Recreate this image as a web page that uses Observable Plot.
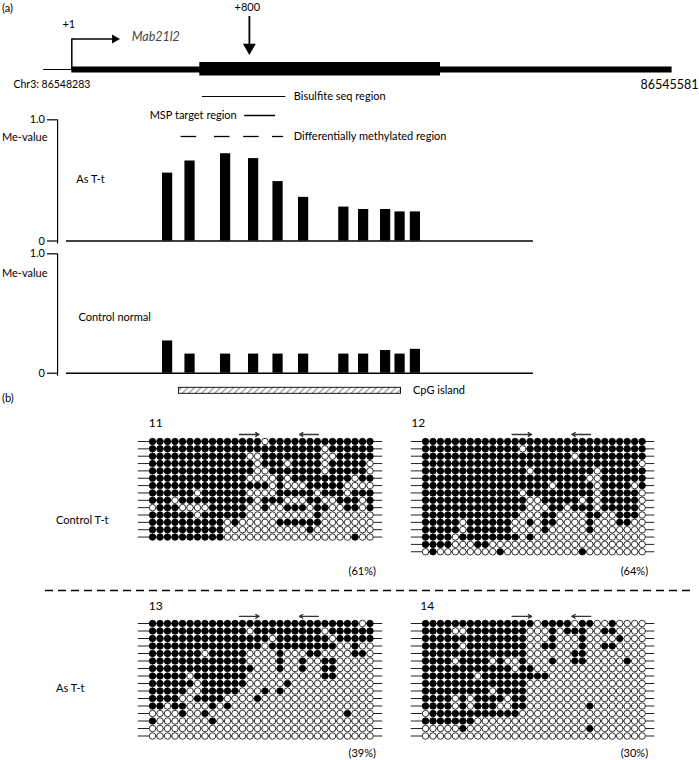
<!DOCTYPE html>
<html>
<head>
<meta charset="utf-8">
<script src="https://cdn.jsdelivr.net/npm/d3@7"></script>
<script src="https://cdn.jsdelivr.net/npm/@observablehq/plot@0.6"></script>
<style>
  html, body { margin: 0; padding: 0; background: #fff; }
  #fig { position: relative; width: 699px; height: 760px; background: #fff; overflow: hidden;
         font-family: Lato, "Open Sans", sans-serif; color: #000; }
  #fig .lab { position: absolute; font-size: 11px; line-height: 12px; white-space: nowrap; }
  #fig svg { position: absolute; overflow: visible; }
</style>
</head>
<body>
<div id="fig"></div>
<script>
// ---------------- panel (a) data ----------------
const chrCoordStart = "86548283";
const chrCoordEnd = "86545581";
const geneLength = 2702;                 // bp, +1 .. +2702
const upstreamStart = -125;
const exonBlock = [577, 1660];
const tssPos = 1;
const tssArrowEnd = 194;
const markPos = 800;
const bisulfiteRegion = [589, 964];
const mspRegion = [779, 918];
const dmrSegments = [[493, 563], [643, 713], [774, 844], [904, 954]];
const cpgIsland = [483, 1482];
const cpgPositions = [432, 533, 693, 819, 929, 1044, 1225, 1314, 1413, 1478, 1547];
const meAsTt    = [0.56, 0.66, 0.72, 0.68, 0.49, 0.36, 0.28, 0.26, 0.26, 0.24, 0.24];
const meControl = [0.27, 0.16, 0.16, 0.16, 0.16, 0.16, 0.16, 0.16, 0.19, 0.16, 0.20];
const meTicks = [0, 1];
const profileSpan = [-23, 2078];
const axisAt = -63;
const profileNames = ["As T-t", "Control normal"];

// ---------------- panel (b) data ----------------
const gridLabels = ["11", "12", "13", "14"];
const gridPercents = ["(61%)", "(64%)", "(39%)", "(30%)"];
const sampleLabels = ["Control T-t", "As T-t"];
const primerForward = [11.6, 14.2];
const primerReverse = [22.1, 19.6];

const grid11 = [
"11111 11111 11111 01111 11111 11111",
"11111 11111 11111 11111 11101 11111",
"11111 11111 11100 11111 11100 11111",
"11111 11111 11110 11101 11101 11110",
"11111 11111 11110 01111 11101 11110",
"11111 11111 11100 00101 11111 11011",
"11111 11111 11111 10100 01111 10000",
"11111 10111 11100 00111 11011 10111",
"11101 11111 11110 11100 01100 11101",
"01110 00011 11100 10011 10110 01101",
"11111 10111 11100 00000 00100 00000",
"11111 11111 01000 00111 11100 00000",
"11111 11111 00000 00000 01000 00000",
"11111 11111 00000 00000 00000 00100"];
const grid12 = [
"11111 11111 11111 11111 11111 11111",
"11111 11111 11101 11111 11111 11111",
"11111 11111 11111 11111 01111 11111",
"11111 11111 11111 11111 11111 11110",
"11111 11111 11110 11111 11101 11111",
"11111 11111 11111 11111 11001 11111",
"11111 11111 11111 11011 11101 11101",
"11111 11111 11101 11111 11101 11110",
"11111 11111 11110 01111 10101 11110",
"11111 11111 11110 00110 11101 11110",
"11111 11111 11100 01100 00110 01110",
"11111 01111 11001 01100 00100 01100",
"11111 01111 11000 01000 00100 00000",
"11110 11111 11101 00000 00000 00000",
"11110 00110 00000 00000 00000 00000",
"01000 00000 10000 00000 01000 00000"];
const grid13 = [
"11111 11111 11111 11111 11111 11101",
"11111 11111 11101 11111 11101 11111",
"11111 11111 11111 10111 11110 11111",
"11111 11111 11111 01111 11111 00100",
"11111 11011 11100 00100 01100 00110",
"11111 11111 11100 00100 10011 00000",
"11111 11111 11110 00100 10011 00000",
"11111 01111 11100 00000 00011 00000",
"11111 10111 11100 00010 00000 00000",
"11111 00111 11000 10100 00000 00000",
"11110 01111 00001 00000 00000 00000",
"11011 00010 10000 00000 00000 00000",
"00001 00100 00000 00000 00000 01000",
"10000 00010 00000 00000 00000 00000",
"00000 00000 00000 00000 00000 00000",
"00000 00000 00000 00000 00000 00000"];
const grid14 = [
"11111 11111 11111 01111 01100 10000",
"11110 01111 11110 00101 11001 10000",
"11111 11111 11110 00100 01000 01000",
"11111 01111 11110 01100 01001 10000",
"11111 11111 11110 00000 11000 00000",
"11110 11110 10010 00100 11000 00100",
"11111 11111 11011 00000 00000 00000",
"11111 11011 11111 11000 00000 00000",
"11111 11111 11110 00000 00000 00000",
"11111 11110 11110 00000 00000 00000",
"11110 10111 10110 00000 00000 00000",
"11110 10111 00110 00000 00100 00000",
"01111 11111 11100 00000 00000 00000",
"11111 11000 00000 00000 00000 00000",
"00000 10000 00000 00000 00100 00000",
"00000 00000 00000 00000 00000 00000"];

// ---------------- layout helpers ----------------
const FONT = "Lato, 'Open Sans', sans-serif";
const fig = document.getElementById("fig");
function place(node, left, top) {
  node.style.left = left + "px";
  node.style.top = top + "px";
  fig.appendChild(node);
  return node;
}
function label(text, left, top, extra) {
  const d = document.createElement("div");
  d.className = "lab";
  d.textContent = text;
  d.style.left = left + "px";
  d.style.top = top + "px";
  if (extra) Object.assign(d.style, extra);
  fig.appendChild(d);
}
const baseStyle = {background: "transparent", fontFamily: FONT, fontSize: "11px", color: "black", overflow: "visible"};
const X = {domain: [1, geneLength], range: [71.3, 671.6], axis: null};

// ---------------- gene diagram ----------------
const T = {plus: 7, tssLabel: 24, tss: 38.5, gene: 69, coord: 84, bis: 96, msp: 115, dmr: 136};
const diagram = Plot.plot({
  width: 699, height: 150, margin: 0,
  style: baseStyle,
  x: X, y: {domain: [0, 150], range: [0, 150], axis: null},
  marks: [
    Plot.ruleY([T.gene], {x1: upstreamStart, x2: tssPos, stroke: "black", strokeWidth: 1}),
    Plot.ruleY([T.gene], {x1: tssPos, x2: geneLength, stroke: "black", strokeWidth: 6}),
    Plot.rect([exonBlock], {x1: d => d[0], x2: d => d[1], y1: T.gene - 7, y2: T.gene + 6.5, fill: "black"}),
    Plot.line([[tssPos, T.gene], [tssPos, T.tss], [tssArrowEnd, T.tss]], {x: d => d[0], y: d => d[1], stroke: "black", strokeWidth: 1.5}),
    Plot.dot([tssArrowEnd], {x: d => d, y: T.tss, symbol: "triangle", rotate: 90, r: 3.4, fill: "black", stroke: null}),
    Plot.text(["+1"], {x: tssPos, y: T.tssLabel, dx: -3, fontSize: 11}),
    Plot.text(["Mab21l2"], {x: tssArrowEnd, y: T.tss - 2, dx: 17, textAnchor: "start", fontSize: 12.5, fontStyle: "italic", fill: "#444"}),
    Plot.text(["+800"], {x: markPos, y: T.plus, dx: -2, fontSize: 11}),
    Plot.ruleX([markPos], {y1: 16, y2: 47, stroke: "black", strokeWidth: 1.8}),
    Plot.dot([markPos], {x: d => d, y: 47, symbol: "triangle", rotate: 180, r: 4.8, fill: "black", stroke: null}),
    Plot.text(["Chr3: " + chrCoordStart], {frameAnchor: "left", y: T.coord, dx: 13, textAnchor: "start", fontSize: 10.5}),
    Plot.text([chrCoordEnd], {frameAnchor: "right", y: T.coord, dx: -1, textAnchor: "end", fontSize: 12.5}),
    Plot.ruleY([T.bis], {x1: bisulfiteRegion[0], x2: bisulfiteRegion[1], stroke: "black", strokeWidth: 1}),
    Plot.text(["Bisulfite seq region"], {x: bisulfiteRegion[1], y: T.bis, dx: 8, textAnchor: "start", fontSize: 11}),
    Plot.ruleY([T.msp], {x1: mspRegion[0], x2: mspRegion[1], stroke: "black", strokeWidth: 1.5}),
    Plot.text(["MSP target region"], {x: mspRegion[0], y: T.msp, dx: -8, textAnchor: "end", fontSize: 11}),
    Plot.ruleY(dmrSegments, {y: T.dmr, x1: d => d[0], x2: d => d[1], stroke: "black", strokeWidth: 1.3}),
    Plot.text(["Differentially methylated region"], {x: bisulfiteRegion[1], y: T.dmr, dx: 8, textAnchor: "start", fontSize: 11})
  ]
});
place(diagram, 0, 0);

// ---------------- methylation profiles ----------------
function profile(values, g) {
  const data = cpgPositions.map((pos, k) => ({pos, v: values[k]}));
  return Plot.plot({
    width: 699, height: g.h, marginLeft: 57, marginRight: 0, marginTop: 0, marginBottom: 0,
    style: baseStyle,
    x: X, y: {domain: [0, 1], range: [g.y0, g.y1], label: null},
    marks: [
      Plot.ruleX([axisAt], {y1: -0.025, y2: 1, stroke: "black", strokeWidth: 1.2}),
      Plot.axisY({ticks: meTicks, tickFormat: d => d === 1 ? "1.0" : "0", tickSize: 10, tickPadding: 2.5, fontSize: 11, anchor: "left", label: null, stroke: "black", strokeWidth: 1.2}),
      Plot.ruleY([0], {x1: profileSpan[0], x2: profileSpan[1], stroke: "black", strokeWidth: 1.6}),
      Plot.rectY(data, {x1: d => d.pos - 23, x2: d => d.pos + 23, y: "v", fill: "black"}),
      Plot.text(["Me-value"], {frameAnchor: "left", y: g.meY, dx: -10, textAnchor: "end", fontSize: 11}),
      Plot.text([g.name], {x: g.nameX, y: g.nameY, textAnchor: "start", fontSize: 11})
    ]
  });
}
place(profile(meAsTt, {h: 140, y0: 130.5, y1: 9.3, meY: 0.854, name: profileNames[0], nameX: 21, nameY: 0.507}), 0, 110);
place(profile(meControl, {h: 135, y0: 127.7, y1: 8.3, meY: 0.8375, name: profileNames[1], nameX: 31, nameY: 0.469}), 0, 245);

// ---------------- CpG island ----------------
const cpgPlot = Plot.plot({
  width: 699, height: 24, margin: 0,
  style: baseStyle,
  x: X, y: {domain: [0, 24], range: [0, 24], axis: null},
  marks: [
    Plot.rect([cpgIsland], {x1: d => d[0], x2: d => d[1], y1: 9.3, y2: 15.3, fill: "url(#cpgHatch)", stroke: "black", strokeWidth: 0.9}),
    Plot.text(["CpG island"], {x: cpgIsland[1], y: 12.3, dx: 12, textAnchor: "start", fontSize: 11})
  ]
});
{
  const defs = d3.select(cpgPlot).insert("defs", ":first-child");
  const pat = defs.append("pattern").attr("id", "cpgHatch").attr("patternUnits", "userSpaceOnUse")
    .attr("width", 6.5).attr("height", 6).attr("y", 9.3);
  pat.append("rect").attr("width", 6.5).attr("height", 6).attr("fill", "white");
  pat.append("path").attr("d", "M-1,7 L7.5,-1").attr("stroke", "#222").attr("stroke-width", 0.8);
}
place(cpgPlot, 0, 378);

// ---------------- panel (b): lollipop grids ----------------
function grid(rows, g) {
  const clean = rows.map(s => s.replace(/ /g, ""));
  const cells = [];
  clean.forEach((s, r) => [...s].forEach((c, i) => cells.push({r, i, m: c === "1"})));
  const padL = 25, padT = 32;
  const svg = Plot.plot({
    width: 275, height: 175, margin: 0,
    style: baseStyle,
    x: {domain: [0, 1], range: [padL, padL + g.dx], axis: null},
    y: {domain: [0, 1], range: [padT, padT + g.dy], axis: null},
    marks: [
      Plot.ruleY(d3.range(clean.length), {x1: -1.9, x2: 30.7, stroke: "#222", strokeWidth: 1}),
      Plot.dot(cells, {x: "i", y: "r", r: 3.25, fill: d => d.m ? "black" : "white", stroke: "black", strokeWidth: 0.8}),
      Plot.arrow([primerForward, primerReverse], {x1: d => d[0], x2: d => d[1], y1: -0.95, y2: -0.95, stroke: "#333", strokeWidth: 1.4, headLength: 4}),
      Plot.text([g.label], {x: g.labelCol, y: g.labelRow, textAnchor: "start", fontSize: 12}),
      Plot.text([g.pct], {x: 29.8, y: g.pctRow, textAnchor: "end", fontSize: 11})
    ]
  });
  return place(svg, g.x0 - padL, g.y0 - padT);
}
grid(grid11, {x0: 151.7, y0: 441, dx: 7.5, dy: 7.35, label: gridLabels[0], labelCol: -0.5, labelRow: -2.5, pct: gridPercents[0], pctRow: 17.7});
grid(grid12, {x0: 425, y0: 441, dx: 7.47, dy: 7.35, label: gridLabels[1], labelCol: -1.9, labelRow: -2.5, pct: gridPercents[1], pctRow: 17.7});
grid(grid13, {x0: 151.7, y0: 623.3, dx: 7.5, dy: 7.5, label: gridLabels[2], labelCol: -0.5, labelRow: -2.3, pct: gridPercents[2], pctRow: 17.3});
grid(grid14, {x0: 425, y0: 623.3, dx: 7.47, dy: 7.5, label: gridLabels[3], labelCol: -0.7, labelRow: -2.3, pct: gridPercents[3], pctRow: 17.3});

// separator
const sep = Plot.plot({
  width: 699, height: 8, marginLeft: 45, marginRight: 9, marginTop: 0, marginBottom: 0,
  style: baseStyle,
  y: {domain: [0, 1], axis: null},
  marks: [Plot.ruleY([0.5], {stroke: "black", strokeWidth: 1.5, strokeDasharray: "8,5"})]
});
place(sep, 0, 586);

// panel labels
label("(a)", 2, 2);
label("(b)", 2, 392);
label(sampleLabels[0], 56, 514);
label(sampleLabels[1], 56, 682);
</script>
</body>
</html>
